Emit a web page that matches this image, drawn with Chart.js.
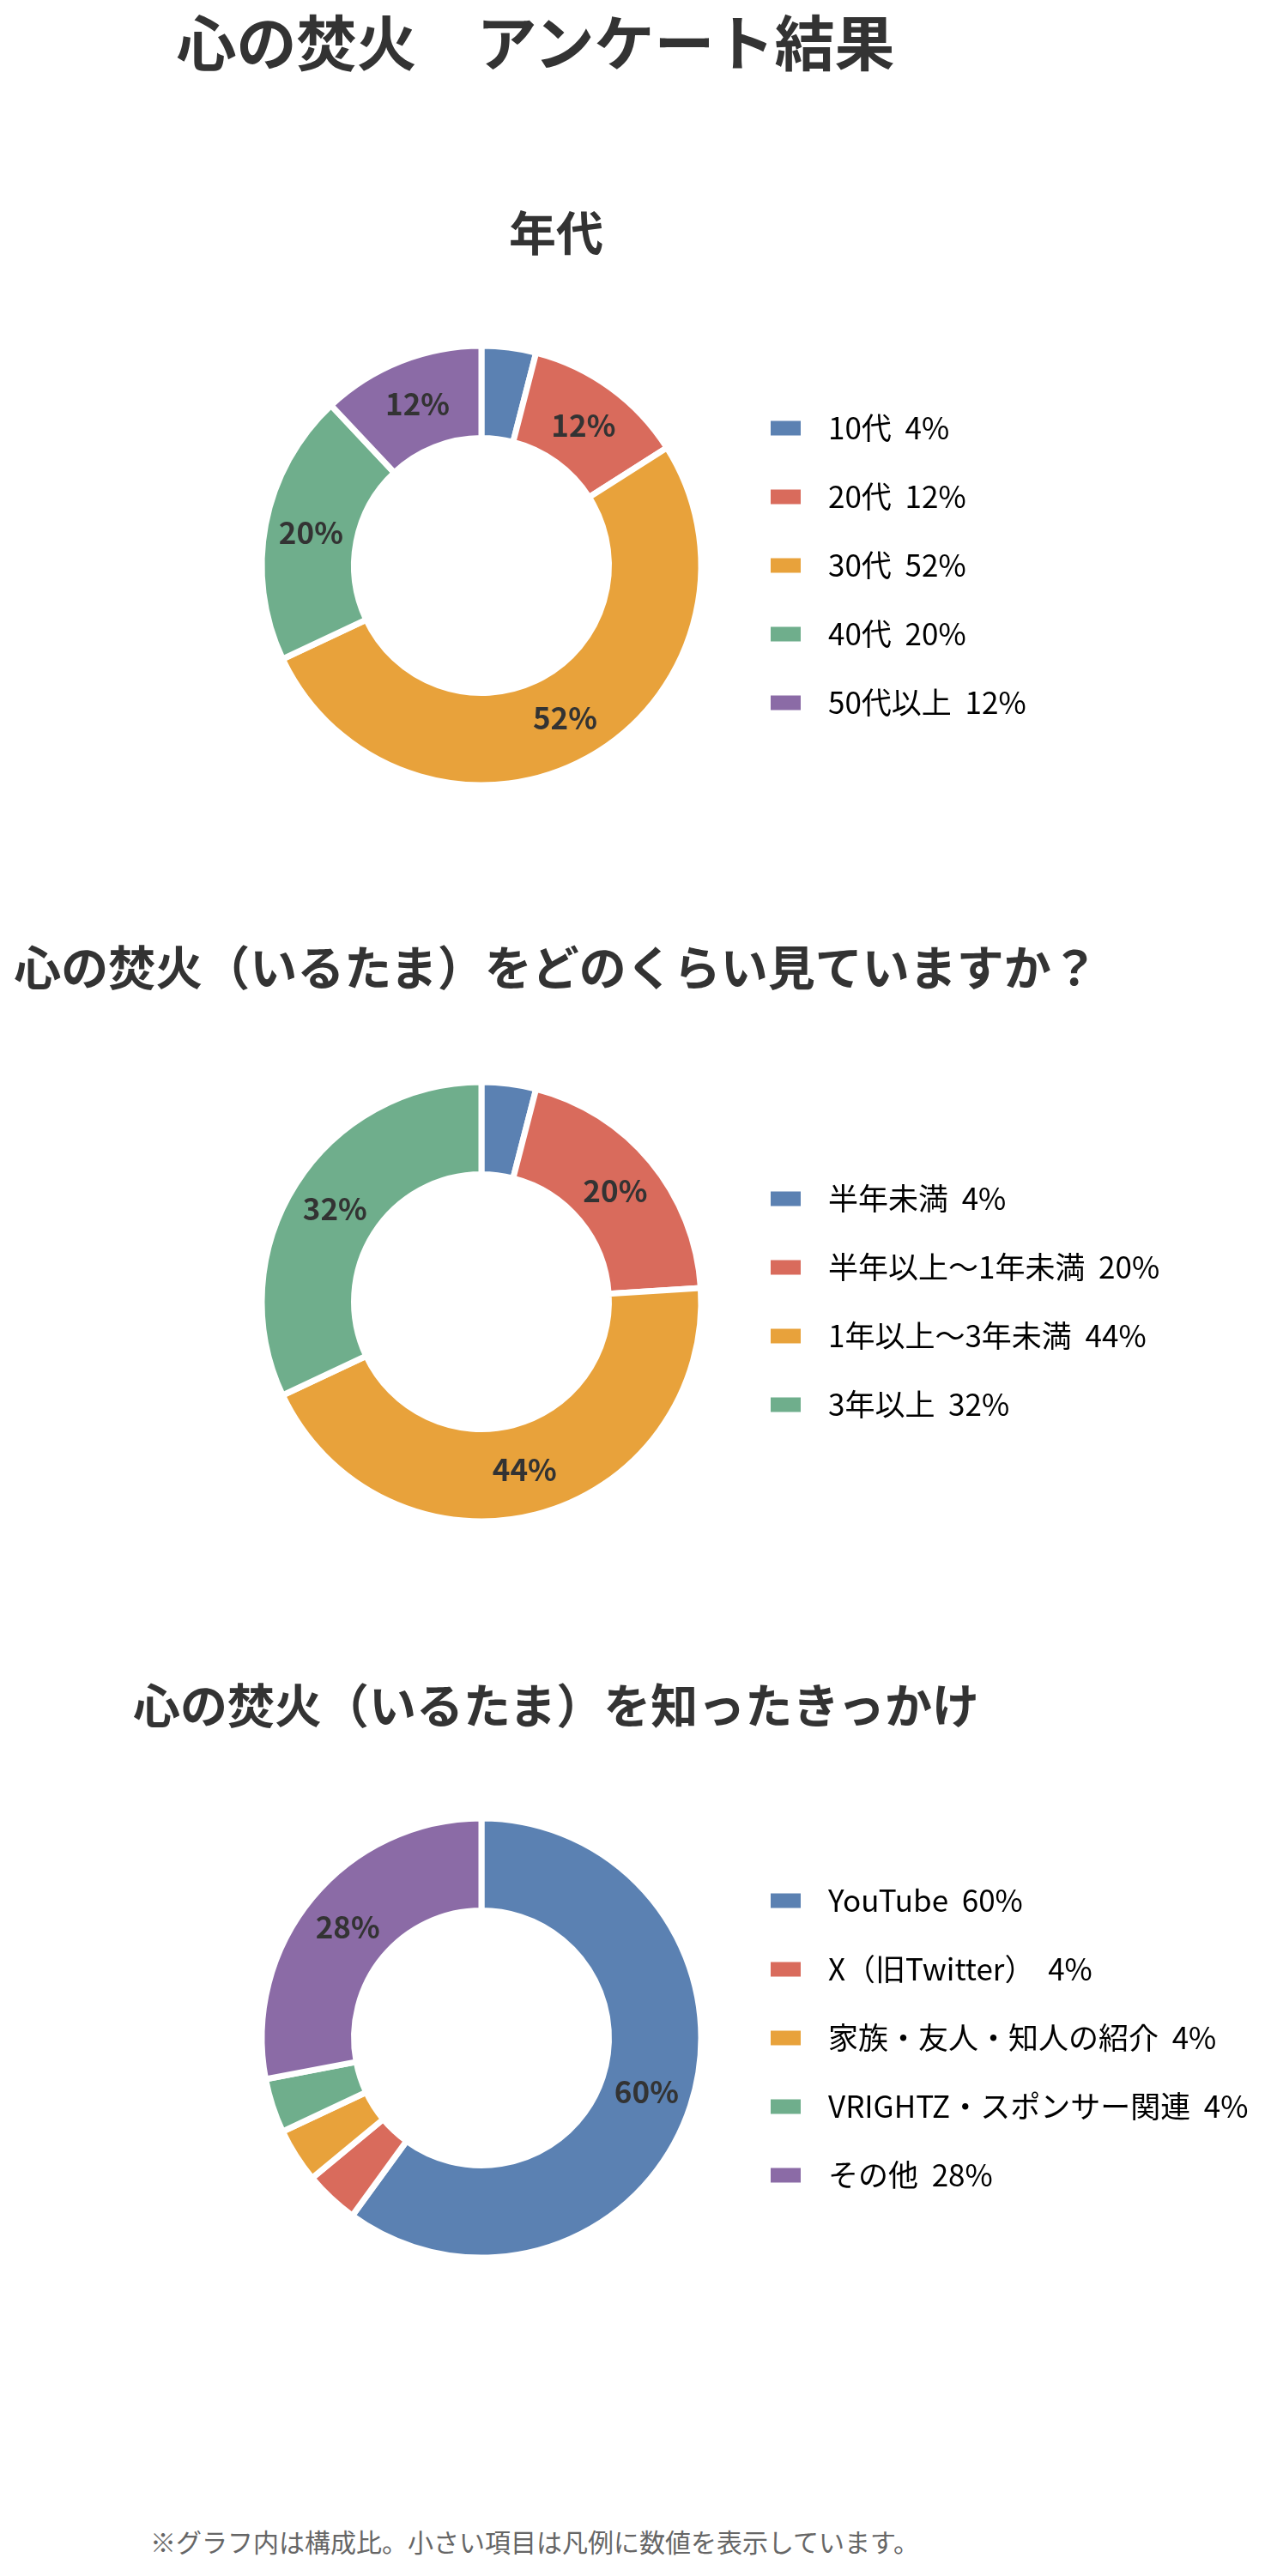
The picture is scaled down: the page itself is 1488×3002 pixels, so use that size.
<!DOCTYPE html>
<html lang="ja">
<head>
<meta charset="utf-8">
<title>心の焚火 アンケート結果</title>
<script src="https://cdn.jsdelivr.net/npm/chart.js@4.4.1/dist/chart.umd.min.js"></script>
<style>
    html, body { margin: 0; padding: 0; background: #fff; }
    body {
        position: relative;
        width: 1488px;
        height: 3002px;
        overflow: hidden;
        font-family: "Noto Sans CJK JP", "Noto Sans", sans-serif;
    }
    .title {
        position: absolute;
        width: 1400px;
        margin: 0;
        text-align: center;
        color: #333;
        font-weight: bold;
        line-height: 1;
        white-space: nowrap;
    }
    .main-title { left: -76px; top: 12px; font-size: 70px; }
    .section-title { left: -52px; font-size: 55px; }
    .chart-box { position: absolute; left: 0; width: 1488px; height: 600px; }
    .note {
        position: absolute;
        left: 175px;
        top: 2946px;
        margin: 0;
        font-size: 30px;
        line-height: 1;
        color: #666;
        white-space: nowrap;
    }
</style>
</head>
<body>
<h1 class="title main-title">心の焚火　アンケート結果</h1>

<h2 class="title section-title" style="top: 241px;">年代</h2>
<div class="chart-box" style="top: 359px;"><canvas id="ageChart" width="1488" height="600"></canvas></div>

<h2 class="title section-title" style="top: 1097px;">心の焚火（いるたま）をどのくらい見ていますか？</h2>
<div class="chart-box" style="top: 1217px;"><canvas id="watchChart" width="1488" height="600"></canvas></div>

<h2 class="title section-title" style="top: 1957px;">心の焚火（いるたま）を知ったきっかけ</h2>
<div class="chart-box" style="top: 2075px;"><canvas id="sourceChart" width="1488" height="600"></canvas></div>

<p class="note">※グラフ内は構成比。小さい項目は凡例に数値を表示しています。</p>

<script>
// survey answers, percent of respondents
const ageLabels = ['10代', '20代', '30代', '40代', '50代以上'];
const ageValues = [4, 12, 52, 20, 12];

const watchLabels = ['半年未満', '半年以上〜1年未満', '1年以上〜3年未満', '3年以上'];
const watchValues = [4, 20, 44, 32];

const sourceLabels = ['YouTube', 'X（旧Twitter）', '家族・友人・知人の紹介', 'VRIGHTZ・スポンサー関連', 'その他'];
const sourceValues = [60, 4, 4, 4, 28];

const sliceColors = ['#5b81b2', '#d96b5c', '#e8a23b', '#6fae8c', '#8b6ba6'];
const minLabelPct = 10;

const FONT = '"Noto Sans CJK JP", "Noto Sans", sans-serif';
const donutCenterX = 561;
const legendLeft = 849.5;

// percent text inside the bigger slices
const sliceLabels = {
    id: 'sliceLabels',
    afterDatasetsDraw(chart) {
        const ctx = chart.ctx;
        const values = chart.data.datasets[0].data;
        const total = values.reduce((a, b) => a + b, 0);
        ctx.save();
        ctx.font = 'bold 35px ' + FONT;
        ctx.fillStyle = '#333';
        ctx.textAlign = 'center';
        ctx.textBaseline = 'middle';
        chart.getDatasetMeta(0).data.forEach((arc, i) => {
            const pct = values[i] / total * 100;
            if (pct < minLabelPct) return;
            const pos = arc.tooltipPosition(true);
            ctx.fillText(Math.round(pct) + '%', pos.x, pos.y);
        });
        ctx.restore();
    }
};

function makeDonut(id, labels, values) {
    const chart = new Chart(document.getElementById(id), {
        type: 'doughnut',
        data: {
            labels: labels,
            datasets: [{
                data: values,
                backgroundColor: sliceColors.slice(0, values.length),
                borderColor: '#fff',
                borderWidth: 7
            }]
        },
        options: {
            responsive: false,
            animation: false,
            events: [],
            radius: 256,
            cutout: '58%',
            layout: { padding: { left: donutCenterX * 2 - legendLeft, right: 0, top: 0, bottom: 0 } },
            plugins: {
                tooltip: { enabled: false },
                legend: {
                    position: 'right',
                    maxWidth: 2000,
                    labels: {
                        // white edge eats into the box, like the patches in the original
                        boxWidth: 64,
                        boxHeight: 46,
                        padding: 34,
                        color: '#222',
                        font: { family: FONT, size: 35 },
                        generateLabels(c) {
                            const ds = c.data.datasets[0];
                            const total = ds.data.reduce((a, b) => a + b, 0);
                            return c.data.labels.map((label, i) => ({
                                text: label + '  ' + Math.round(ds.data[i] / total * 100) + '%',
                                fillStyle: ds.backgroundColor[i],
                                strokeStyle: '#fff',
                                lineWidth: 29,
                                hidden: false,
                                index: i
                            }));
                        }
                    }
                }
            }
        },
        plugins: [sliceLabels]
    });
    // put the legend at the same x in every section
    chart.options.layout.padding.right = chart.width - legendLeft - chart.legend.width;
    chart.update();
    return chart;
}

makeDonut('ageChart', ageLabels, ageValues);
makeDonut('watchChart', watchLabels, watchValues);
makeDonut('sourceChart', sourceLabels, sourceValues);
</script>
</body>
</html>
